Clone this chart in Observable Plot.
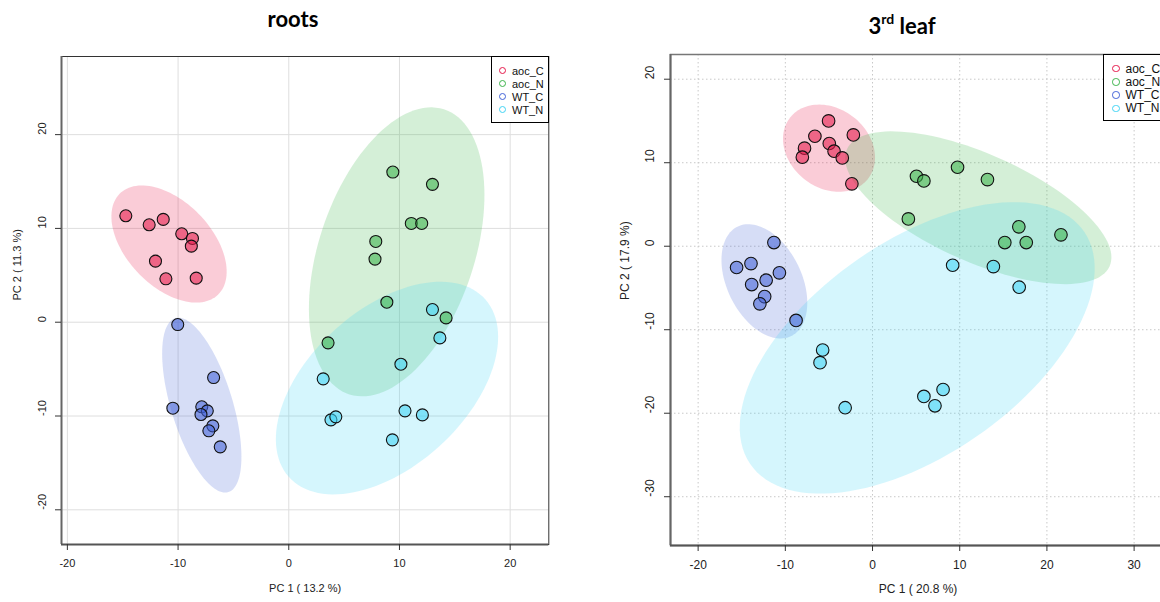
<!DOCTYPE html>
<html>
<head>
<meta charset="utf-8">
<script src="https://cdn.jsdelivr.net/npm/d3@7"></script>
<script src="https://cdn.jsdelivr.net/npm/@observablehq/plot@0.6"></script>
<style>
  html, body { margin: 0; padding: 0; background: #fff; width: 1160px; height: 602px; overflow: hidden; }
  #page { position: relative; width: 1160px; height: 602px; overflow: hidden; font-family: "Liberation Sans", Arial, sans-serif; }
  .panel { position: absolute; top: 0; height: 602px; }
  .panel svg { max-width: none !important; display: block; }
  .title { position: absolute; font-family: Lato, "Open Sans", sans-serif; font-weight: 700; font-size: 22px; color: #000; white-space: nowrap; transform: translateX(-50%); line-height: 1; }
  .title sup { font-size: 14px; position: relative; top: -2px; }
  .legend { position: absolute; background: #fff; border: 1px solid #000; box-sizing: border-box; color: #111; }
  .legend .row { position: absolute; left: 0; display: flex; align-items: center; white-space: nowrap; }
  .legend .mk { display: inline-block; border-radius: 50%; box-sizing: border-box; background: transparent; }
</style>
</head>
<body>
<div id="page"></div>
<script>
// Sample groups and their colours
const groups = ["aoc_C", "aoc_N", "WT_C", "WT_N"];
const groupColors = ["#e6194B", "#3cb44b", "#4363d8", "#42d4f4"];

// Roots: PCA scores [PC1, PC2]
const rootsAocC = [[-14.72, 11.35], [-12.61, 10.39], [-11.34, 10.96], [-9.67, 9.43], [-8.70, 8.93], [-8.80, 8.11], [-12.04, 6.51], [-11.10, 4.63], [-8.36, 4.70]];
const rootsAocN = [[9.40, 16.01], [12.98, 14.70], [11.07, 10.53], [12.01, 10.53], [7.86, 8.61], [7.79, 6.73], [8.86, 2.13], [14.21, 0.46], [3.55, -2.20]];
const rootsWtC = [[-10.03, -0.25], [-6.79, -5.90], [-10.47, -9.17], [-7.86, -9.02], [-7.36, -9.45], [-7.93, -9.84], [-6.86, -11.05], [-7.22, -11.58], [-6.19, -13.29]];
const rootsWtN = [[12.98, 1.35], [13.65, -1.67], [10.13, -4.48], [3.11, -6.04], [10.50, -9.45], [12.07, -9.88], [3.81, -10.41], [4.25, -10.09], [9.36, -12.54]];

// 3rd leaf: PCA scores [PC1, PC2]
const leafAocC = [[-5.04, 15.01], [-6.61, 13.17], [-2.20, 13.33], [-7.80, 11.74], [-4.96, 12.30], [-4.41, 11.38], [-8.05, 10.66], [-3.47, 10.58], [-2.37, 7.47]];
const leafAocN = [[5.04, 8.38], [5.89, 7.82], [9.75, 9.46], [13.18, 7.98], [4.11, 3.27], [16.78, 2.32], [15.17, 0.44], [17.63, 0.44], [21.61, 1.36]];
const leafWtC = [[-11.31, 0.44], [-13.94, -2.08], [-15.59, -2.55], [-10.68, -3.19], [-12.20, -4.07], [-13.86, -4.59], [-12.37, -6.03], [-12.92, -6.90], [-8.77, -8.89]];
const leafWtN = [[9.19, -2.28], [13.86, -2.44], [16.82, -4.91], [-5.72, -12.43], [-6.02, -13.94], [-3.14, -19.34], [5.89, -17.99], [8.09, -17.16], [7.16, -19.11]];

// Axis ticks and titles
const rootsTicksX = [-20, -10, 0, 10, 20];
const rootsTicksY = [-20, -10, 0, 10, 20];
const leafTicksX = [-20, -10, 0, 10, 20, 30];
const leafTicksY = [-30, -20, -10, 0, 10, 20];
const rootsLabels = ["PC 1 ( 13.2 %)", "PC 2 ( 11.3 %)"];
const leafLabels = ["PC 1 ( 20.8 %)", "PC 2 ( 17.9 %)"];

function toRows(sets) {
  const rows = [];
  sets.forEach((pts, i) => pts.forEach(([pc1, pc2]) => rows.push({group: groups[i], pc1, pc2})));
  return rows;
}

// 95% confidence ellipse of a group's scores (same construction as R's ellipse())
function ellipse95(rows, group, n = 120) {
  const g = rows.filter(d => d.group === group);
  const mx = d3.mean(g, d => d.pc1), my = d3.mean(g, d => d.pc2);
  const sx = d3.deviation(g, d => d.pc1), sy = d3.deviation(g, d => d.pc2);
  const cov = d3.sum(g, d => (d.pc1 - mx) * (d.pc2 - my)) / (g.length - 1);
  const r = Math.max(-1, Math.min(1, cov / (sx * sy)));
  const t = Math.sqrt(-2 * Math.log(1 - 0.95));
  const dAng = Math.acos(r);
  const out = [];
  for (let i = 0; i < n; i++) {
    const a = -Math.PI + 2 * Math.PI * i / n;
    out.push({group, pc1: mx + t * sx * Math.cos(a + dAng / 2), pc2: my + t * sy * Math.cos(a - dAng / 2)});
  }
  return out;
}

function panel(opts) {
  const rows = toRows(opts.sets);
  const ell = groups.flatMap(g => ellipse95(rows, g));
  const [x0] = opts.xDomain, [y0] = opts.yDomain;
  const fs = opts.fontSize;
  return Plot.plot({
    width: opts.width, height: opts.height,
    marginLeft: opts.ml, marginRight: opts.mr, marginTop: opts.mt, marginBottom: opts.mb,
    style: {fontFamily: '"Liberation Sans", Arial, sans-serif', fontSize: fs + "px", color: "#222", background: "transparent", overflow: "visible", maxWidth: "none"},
    x: {domain: opts.xDomain, axis: null},
    y: {domain: opts.yDomain, axis: null},
    color: {domain: groups, range: groupColors},
    marks: [
      Plot.ruleX(opts.ticksX, {stroke: opts.gridColor, strokeWidth: 1, strokeDasharray: opts.gridDash}),
      Plot.ruleY(opts.ticksY, {stroke: opts.gridColor, strokeWidth: 1, strokeDasharray: opts.gridDash}),
      Plot.line(ell, {x: "pc1", y: "pc2", z: "group", fill: "group", fillOpacity: 0.22, stroke: null, curve: "linear-closed", clip: true}),
      Plot.dot(rows, {x: "pc1", y: "pc2", r: opts.r, fill: "group", fillOpacity: 0.58, stroke: "#111", strokeWidth: 1.1}),
      Plot.frame({stroke: opts.frameColor, strokeWidth: opts.frameWidth}),
      Plot.ruleX([x0], {stroke: "#666", strokeWidth: 2}),
      Plot.ruleY([y0], {stroke: "#555", strokeWidth: 2}),
      Plot.axisX(opts.ticksX, {tickSize: 6, tickPadding: 9, tickFormat: d => String(d), stroke: "#333", fill: "#222", fontSize: fs, label: null}),
      Plot.axisY(opts.ticksY, {tickSize: 6, tickFormat: () => "", stroke: "#333", label: null}),
      Plot.text(opts.ticksY, {y: d => d, text: d => String(d), frameAnchor: "left", dx: opts.yTickDx, rotate: -90, fontSize: fs, fill: "#222"}),
      Plot.text([opts.labels[0]], {frameAnchor: "bottom", dy: opts.xLabelDy, fontSize: fs, fill: "#222"}),
      Plot.text([opts.labels[1]], {frameAnchor: "left", dx: opts.yLabelDx, rotate: -90, fontSize: fs, fill: "#222"})
    ]
  });
}

function legend(parent, o) {
  const box = document.createElement("div");
  box.className = "legend";
  Object.assign(box.style, {left: o.left + "px", top: o.top + "px", width: o.width + "px", height: o.height + "px", fontSize: o.fontSize + "px"});
  groups.forEach((g, i) => {
    const row = document.createElement("div");
    row.className = "row";
    row.style.top = (o.firstRow + i * o.step - o.top - o.fontSize * 0.6) + "px";
    row.style.height = (o.fontSize * 1.2) + "px";
    const mk = document.createElement("span");
    mk.className = "mk";
    Object.assign(mk.style, {width: o.mk + "px", height: o.mk + "px", border: "1.2px solid " + groupColors[i], marginLeft: o.mkLeft + "px", marginRight: o.gap + "px"});
    const tx = document.createElement("span");
    tx.textContent = g;
    row.append(mk, tx);
    box.append(row);
  });
  parent.append(box);
}

const page = document.getElementById("page");

// roots
const left = document.createElement("div");
left.className = "panel";
Object.assign(left.style, {left: "0px", width: "580px"});
left.append(panel({
  sets: [rootsAocC, rootsAocN, rootsWtC, rootsWtN],
  width: 580, height: 602, ml: 61, mr: 31.7, mt: 56, mb: 58,
  xDomain: [-20.53, 23.49], yDomain: [-23.7, 28.33],
  ticksX: rootsTicksX, ticksY: rootsTicksY,
  gridColor: "#dedede", gridDash: null, frameColor: "#333", frameWidth: 1,
  fontSize: 11, r: 6, yTickDx: -19.3, xLabelDy: 47.7, yLabelDx: -44.3,
  labels: rootsLabels
}));
page.append(left);

// 3rd leaf
const right = document.createElement("div");
right.className = "panel";
Object.assign(right.style, {left: "580px", width: "600px"});
right.append(panel({
  sets: [leafAocC, leafAocN, leafWtC, leafWtN],
  width: 600, height: 602, ml: 90, mr: 15, mt: 54, mb: 57,
  xDomain: [-23.17, 33.6], yDomain: [-35.84, 22.96],
  ticksX: leafTicksX, ticksY: leafTicksY,
  gridColor: "#c8c8c8", gridDash: "1.5,2.5", frameColor: "#777", frameWidth: 1.5,
  fontSize: 12, r: 6.3, yTickDx: -20, xLabelDy: 47.7, yLabelDx: -45,
  labels: leafLabels
}));
page.append(right);

// titles
const t1 = document.createElement("div");
t1.className = "title";
Object.assign(t1.style, {left: "293px", top: "8px"});
t1.textContent = "roots";
page.append(t1);

const t2 = document.createElement("div");
t2.className = "title";
Object.assign(t2.style, {left: "902px", top: "14px"});
t2.innerHTML = "3<sup>rd</sup> leaf";
page.append(t2);

// legends
legend(page, {left: 491, top: 56, width: 58, height: 67, fontSize: 11, firstRow: 70, step: 13, mk: 7, mkLeft: 7, gap: 6});
legend(page, {left: 1103, top: 54, width: 70, height: 67, fontSize: 12, firstRow: 67.7, step: 13.2, mk: 7.5, mkLeft: 8, gap: 6});
</script>
</body>
</html>
